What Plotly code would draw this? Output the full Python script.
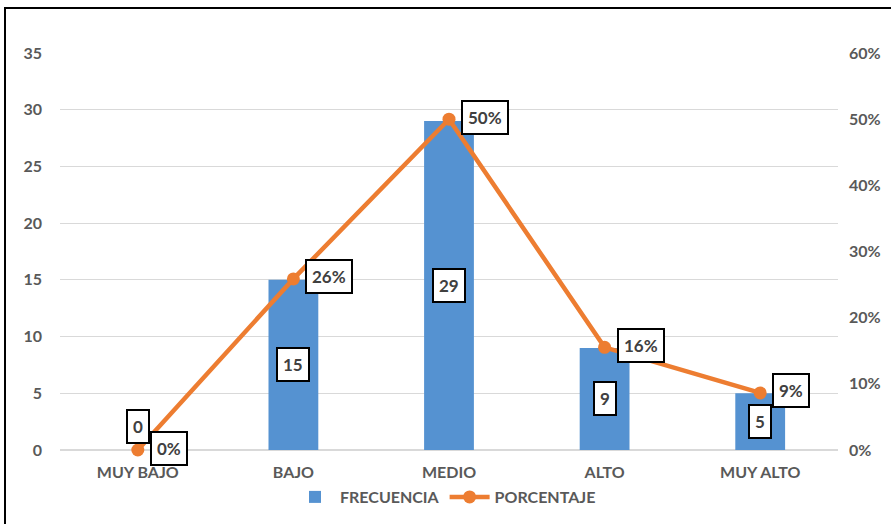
import plotly.graph_objects as go

categories = ["MUY BAJO", "BAJO", "MEDIO", "ALTO", "MUY ALTO"]
frecuencia = [0, 15, 29, 9, 5]
porcentaje = [0.0, 25.86, 50.0, 15.52, 8.62]
pct_labels = ["0%", "26%", "50%", "16%", "9%"]
left_ticks = [0, 5, 10, 15, 20, 25, 30, 35]
right_ticks = [0, 10, 20, 30, 40, 50, 60]
right_ticktext = ["0%", "10%", "20%", "30%", "40%", "50%", "60%"]

FONT = "Lato"
GRAY = "#595959"
LABEL = "#404040"

fig = go.Figure()
fig.add_trace(go.Bar(
    x=categories, y=frecuencia, name="FRECUENCIA",
    marker=dict(color="#5592D1", line=dict(width=0)),
    yaxis="y",
))
fig.add_trace(go.Scatter(
    x=categories, y=porcentaje, name="PORCENTAJE", mode="lines+markers",
    line=dict(color="#ED7D31", width=4.5),
    marker=dict(color="#ED7D31", size=13),
    cliponaxis=False,
    yaxis="y2",
))

annotations = []
for c, v in zip(categories, frecuencia):
    if v == 0:
        annotations.append(dict(x=c, y=0, xref="x", yref="y", text=str(v),
                                showarrow=False, yanchor="bottom", yshift=6))
    else:
        annotations.append(dict(x=c, y=v / 2, xref="x", yref="y", text=str(v),
                                showarrow=False, yanchor="middle"))
for c, p, t in zip(categories, porcentaje, pct_labels):
    annotations.append(dict(x=c, y=p, xref="x", yref="y2", text=t,
                            showarrow=False, xanchor="left", xshift=12,
                            yanchor="middle", yshift=2))
for a in annotations:
    a.update(font=dict(family=FONT, size=17, color=LABEL, weight="bold"),
             bgcolor="white", bordercolor="black", borderwidth=2, borderpad=5)

fig.update_layout(
    width=891, height=524,
    margin=dict(l=60, r=53, t=53, b=74),
    paper_bgcolor="white", plot_bgcolor="white",
    bargap=0.68,
    showlegend=True,
    legend=dict(orientation="h", x=0.5, xref="container", xanchor="center",
                y=(524 - 497) / 524, yref="container", yanchor="middle",
                bgcolor="rgba(0,0,0,0)",
                font=dict(family=FONT, size=16, color=GRAY, weight="bold"),
                itemwidth=40, traceorder="normal"),
    xaxis=dict(showgrid=False, showline=False, ticks="", automargin=False,
               ticklabelstandoff=11,
               tickfont=dict(family=FONT, size=16, color=GRAY, weight="bold")),
    yaxis=dict(range=[0, 35], tickvals=left_ticks, showgrid=True, automargin=False,
               gridcolor="#D9D9D9", gridwidth=1, zeroline=True, zerolinecolor="#D9D9D9",
               showline=False, ticks="", ticklabelstandoff=17,
               tickfont=dict(family=FONT, size=16, color=GRAY, weight="bold")),
    yaxis2=dict(range=[0, 60], tickvals=right_ticks, ticktext=right_ticktext,
                overlaying="y", automargin=False,
                side="right", showgrid=False, zeroline=False, showline=False, ticks="",
                ticklabelstandoff=10,
                tickfont=dict(family=FONT, size=16, color=GRAY, weight="bold")),
    annotations=annotations,
    shapes=[dict(type="rect", xref="paper", yref="paper",
                 x0=(5 - 60) / 778, x1=1.2, y0=-0.5, y1=(450 - 8) / 397,
                 line=dict(color="black", width=2), fillcolor="rgba(0,0,0,0)",
                 layer="above")],
)

fig.write_html("out.html", config={"displayModeBar": False},
               post_script="document.body.style.margin='0';")
